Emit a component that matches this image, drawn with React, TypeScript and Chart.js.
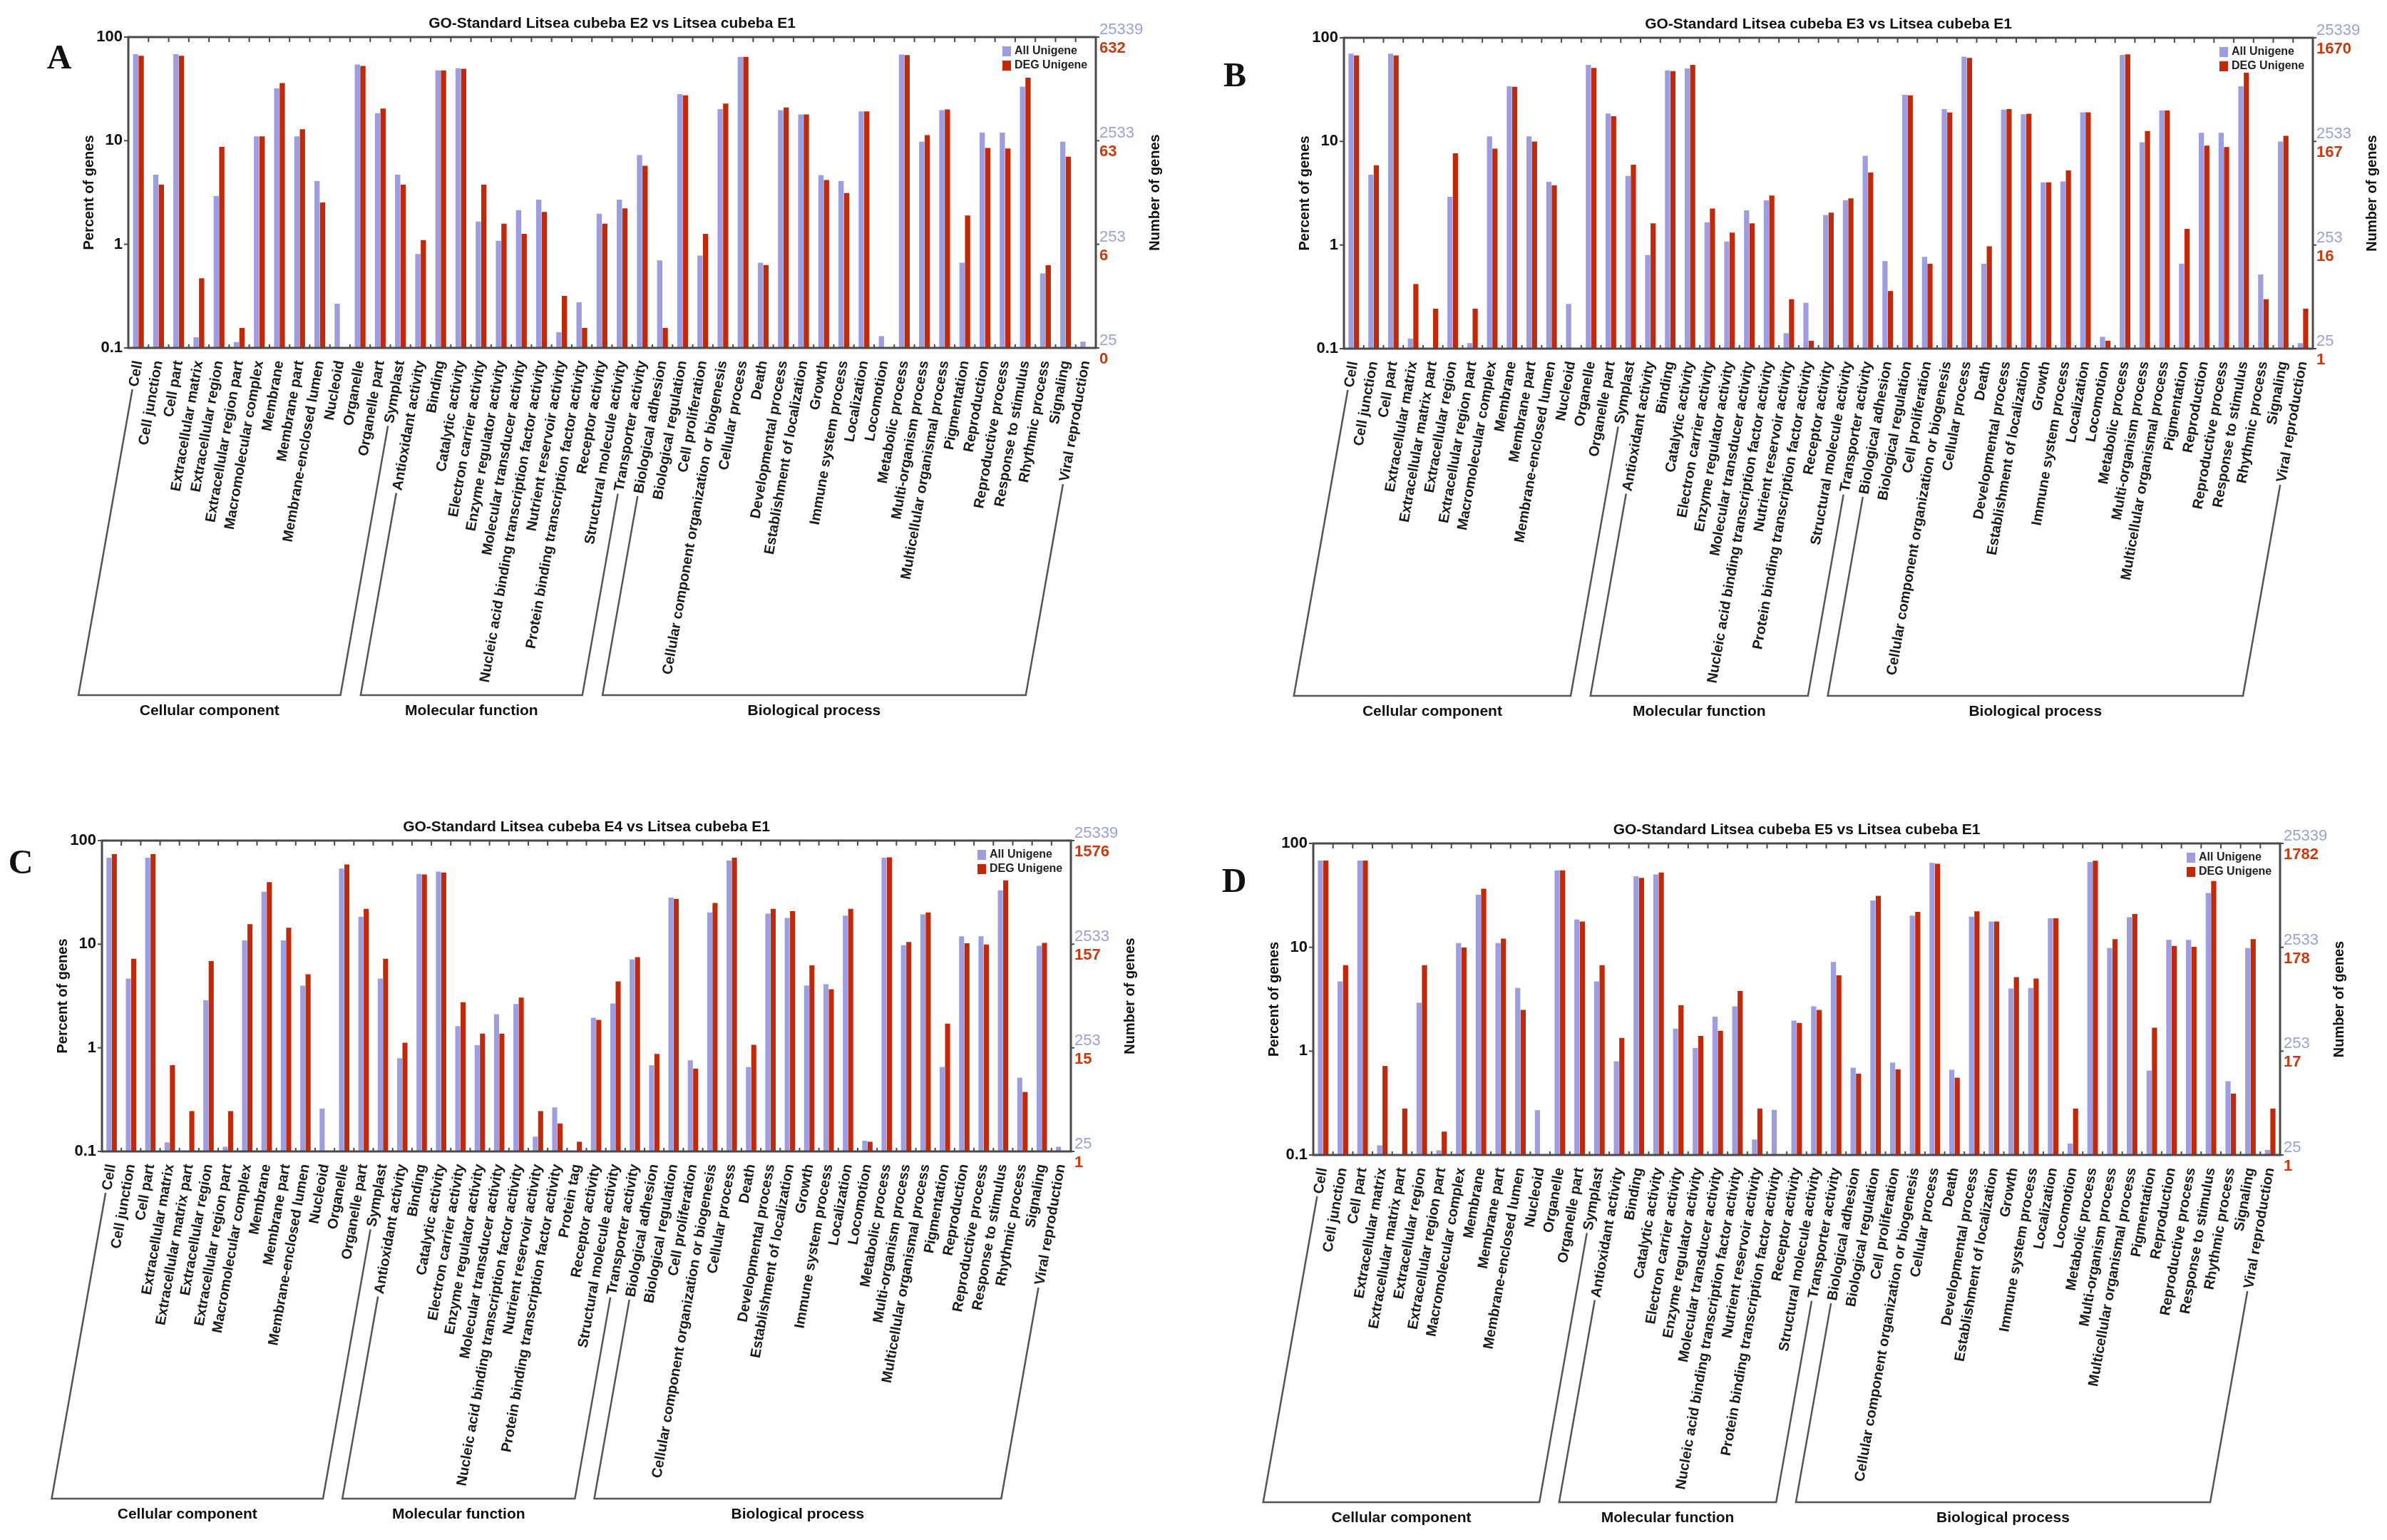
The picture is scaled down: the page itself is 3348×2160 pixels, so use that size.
import { useEffect, useRef } from 'react';
import { Chart, registerables } from 'chart.js';

Chart.register(...registerables);

// --- categories ---
const cellular = ['Cell', 'Cell junction', 'Cell part', 'Extracellular matrix', 'Extracellular region', 'Extracellular region part', 'Macromolecular complex', 'Membrane', 'Membrane part', 'Membrane-enclosed lumen', 'Nucleoid', 'Organelle', 'Organelle part', 'Symplast'];
const cellularEmp = ['Cell', 'Cell junction', 'Cell part', 'Extracellular matrix', 'Extracellular matrix part', 'Extracellular region', 'Extracellular region part', 'Macromolecular complex', 'Membrane', 'Membrane part', 'Membrane-enclosed lumen', 'Nucleoid', 'Organelle', 'Organelle part', 'Symplast'];
const molecular = ['Antioxidant activity', 'Binding', 'Catalytic activity', 'Electron carrier activity', 'Enzyme regulator activity', 'Molecular transducer activity', 'Nucleic acid binding transcription factor activity', 'Nutrient reservoir activity', 'Protein binding transcription factor activity', 'Receptor activity', 'Structural molecule activity', 'Transporter activity'];
const molecularTag = ['Antioxidant activity', 'Binding', 'Catalytic activity', 'Electron carrier activity', 'Enzyme regulator activity', 'Molecular transducer activity', 'Nucleic acid binding transcription factor activity', 'Nutrient reservoir activity', 'Protein binding transcription factor activity', 'Protein tag', 'Receptor activity', 'Structural molecule activity', 'Transporter activity'];
const biological = ['Biological adhesion', 'Biological regulation', 'Cell proliferation', 'Cellular component organization or biogenesis', 'Cellular process', 'Death', 'Developmental process', 'Establishment of localization', 'Growth', 'Immune system process', 'Localization', 'Locomotion', 'Metabolic process', 'Multi-organism process', 'Multicellular organismal process', 'Pigmentation', 'Reproduction', 'Reproductive process', 'Response to stimulus', 'Rhythmic process', 'Signaling', 'Viral reproduction'];

// --- values (percent of genes) ---
const allA = [68.5, 4.69, 68.5, 0.127, 2.92, 0.114, 11.0, 32, 11.0, 4.07, 0.267, 54.3, 18.4, 4.69, 0.806, 47.6, 50, 1.66, 1.08, 2.14, 2.7, 0.142, 0.276, 1.97, 2.7, 7.26, 0.7, 28.2, 0.777, 20.2, 64.3, 0.664, 19.7, 17.9, 4.64, 4.07, 19.2, 0.13, 67.8, 9.78, 19.7, 0.664, 11.97, 11.97, 33.3, 0.524, 9.78, 0.115];
const degA = [66, 3.76, 66, 0.47, 8.7, 0.156, 11.0, 36, 12.9, 2.53, null, 52.7, 20.4, 3.76, 1.1, 47.6, 49.5, 3.76, 1.58, 1.26, 2.05, 0.318, 0.156, 1.58, 2.22, 5.73, 0.156, 27.4, 1.26, 22.8, 64.3, 0.63, 20.9, 17.9, 4.18, 3.13, 19.2, null, 67, 11.3, 20, 1.9, 8.5, 8.4, 40.5, 0.63, 7.0, null];

const allB = [70.2, 4.77, 70.2, 0.125, null, 2.92, 0.113, 11.2, 34.1, 11.2, 4.07, 0.27, 54.8, 18.6, 4.64, 0.8, 48.5, 50.6, 1.66, 1.08, 2.16, 2.7, 0.141, 0.277, 1.95, 2.71, 7.27, 0.7, 28.2, 0.77, 20.5, 65.6, 0.66, 20.3, 18.3, 4.03, 4.11, 19.1, 0.13, 68.4, 9.82, 19.9, 0.66, 12.1, 12.1, 34.1, 0.52, 9.98, 0.113];
const degB = [67.6, 5.89, 67.6, 0.42, 0.243, 7.67, 0.243, 8.5, 33.6, 9.98, 3.76, null, 51.2, 17.5, 5.95, 1.62, 47.7, 54.8, 2.25, 1.32, 1.62, 3.0, 0.3, 0.119, 2.05, 2.82, 5.0, 0.36, 27.8, 0.66, 19.0, 64, 0.97, 20.5, 18.5, 4.03, 5.25, 19.1, 0.119, 69.2, 12.6, 19.9, 1.43, 9.12, 8.83, 46, 0.3, 11.3, 0.243];

const allC = [68.4, 4.67, 68.4, 0.122, null, 2.87, 0.111, 10.9, 32.1, 10.9, 3.98, 0.259, 53.8, 18.4, 4.67, 0.794, 47.6, 50.2, 1.62, 1.06, 2.11, 2.65, 0.139, 0.266, null, 1.95, 2.68, 7.12, 0.678, 28.1, 0.757, 20.3, 64.1, 0.653, 19.7, 17.9, 4.0, 4.11, 18.9, 0.127, 68.4, 9.77, 19.4, 0.653, 11.9, 11.9, 33.1, 0.515, 9.67, 0.111];
const degC = [74, 7.23, 74, 0.68, 0.245, 6.86, 0.245, 15.6, 39.8, 14.4, 5.13, null, 58.9, 21.9, 7.23, 1.12, 47.2, 49.2, 2.75, 1.37, 1.37, 3.05, 0.245, 0.186, 0.124, 1.86, 4.38, 7.5, 0.873, 27.4, 0.63, 25.0, 68.4, 1.07, 21.9, 20.8, 6.24, 3.67, 21.9, 0.124, 69, 10.5, 20.3, 1.71, 10.2, 9.93, 41.3, 0.375, 10.3, null];

const allD = [68.4, 4.7, 68.4, 0.124, null, 2.92, 0.111, 11.0, 32.1, 11.0, 4.05, 0.27, 55.1, 18.5, 4.7, 0.8, 48.3, 50.3, 1.65, 1.07, 2.15, 2.7, 0.141, 0.272, 1.97, 2.7, 7.23, 0.692, 28.2, 0.773, 20.2, 64.9, 0.661, 19.7, 17.7, 4.01, 4.05, 19.0, 0.129, 66.2, 9.82, 19.5, 0.65, 11.8, 11.8, 33.3, 0.513, 9.82, 0.112];
const degD = [68.4, 6.72, 68.4, 0.72, 0.28, 6.72, 0.168, 9.93, 36.7, 12.1, 2.49, null, 55.1, 17.7, 6.72, 1.34, 46.6, 52.5, 2.77, 1.4, 1.57, 3.8, 0.28, null, 1.87, 2.49, 5.36, 0.607, 31.3, 0.667, 21.9, 63.8, 0.555, 22.2, 17.7, 5.16, 5.0, 19.0, 0.28, 68.1, 12.0, 20.9, 1.68, 10.3, 10.1, 43.5, 0.39, 12.0, 0.28];

// --- axis tick labels ---
const tickValues = [100, 10, 1, 0.1];
const leftTickLabels = ['100', '10', '1', '0.1'];
const allTickLabels = ['25339', '2533', '253', '25'];
const degTicksA = ['632', '63', '6', '0'];
const degTicksB = ['1670', '167', '16', '1'];
const degTicksC = ['1576', '157', '15', '1'];
const degTicksD = ['1782', '178', '17', '1'];

const BLUE = '#9d9de0';
const RED = '#c02a0a';
const FONT = "'Liberation Sans', Arial, sans-serif";
const ROT = 80;

const text = (ctx, s, x, y, font, color, align = 'center', rot = 0) => {
  ctx.save();
  ctx.translate(x, y);
  if (rot) ctx.rotate(rot);
  ctx.font = font;
  ctx.fillStyle = color;
  ctx.textAlign = align;
  ctx.textBaseline = 'middle';
  ctx.fillText(s, 0, 0);
  ctx.restore();
};

const line = (ctx, x1, y1, x2, y2) => {
  ctx.beginPath();
  ctx.moveTo(x1, y1);
  ctx.lineTo(x2, y2);
  ctx.stroke();
};

const decor = {
  id: 'decor',
  afterDraw(chart, _args, o) {
    const { ctx, chartArea: a } = chart;
    const xs = chart.scales.x;
    const ys = chart.scales.y;
    const labels = chart.data.labels;
    const n = labels.length;
    ctx.save();

    // plot frame
    ctx.strokeStyle = '#4a4a4a';
    ctx.lineWidth = 3;
    ctx.strokeRect(a.left, a.top, a.right - a.left, a.bottom - a.top);

    // category ticks
    ctx.lineWidth = 2;
    for (let i = 1; i < n; i++) {
      const x = (xs.getPixelForValue(i - 1) + xs.getPixelForValue(i)) / 2;
      line(ctx, x, a.top, x, a.top + 7);
      line(ctx, x, a.bottom, x, a.bottom - 5);
    }

    // y ticks both sides
    tickValues.forEach((v, k) => {
      const y = ys.getPixelForValue(v);
      line(ctx, a.left - 6, y, a.left, y);
      line(ctx, a.right, y, a.right + 5, y);
      text(ctx, leftTickLabels[k], a.left - 8, y, `bold 22px ${FONT}`, '#111', 'right');
      text(ctx, allTickLabels[k], a.right + 5, y - 10, `22px ${FONT}`, '#9f9fe0', 'left');
      text(ctx, o.degTicks[k], a.right + 5, y + 16, `bold 22px ${FONT}`, '#c83a10', 'left');
    });

    const midY = (a.top + a.bottom) / 2;
    text(ctx, 'Percent of genes', a.left - 55, midY, `bold 20px ${FONT}`, '#111', 'center', -Math.PI / 2);
    text(ctx, 'Number of genes', a.right + 83, midY, `bold 20px ${FONT}`, '#111', 'center', -Math.PI / 2);

    // title and panel letter
    text(ctx, o.title, (a.left + a.right) / 2, a.top - 19, `bold 21px ${FONT}`, '#111');
    text(ctx, o.letter, o.letterX, o.letterY, "bold 48px 'Liberation Serif', serif", '#111');

    // legend
    ctx.fillStyle = BLUE;
    ctx.fillRect(a.right - 131, a.top + 13, 12, 14);
    ctx.fillStyle = RED;
    ctx.fillRect(a.right - 131, a.top + 33, 12, 14);
    text(ctx, 'All Unigene', a.right - 114, a.top + 20, `bold 16px ${FONT}`, '#222', 'left');
    text(ctx, 'DEG Unigene', a.right - 114, a.top + 40, `bold 16px ${FONT}`, '#222', 'left');

    // group brackets following the label slant
    const th = (ROT * Math.PI) / 180;
    const c = Math.cos(th);
    const s = Math.sin(th);
    const y0 = a.bottom + 10;
    const yb = a.bottom + 487;
    const k = (yb - y0) / s;
    ctx.font = `bold 20px ${FONT}`;
    ctx.strokeStyle = '#555';
    ctx.lineWidth = 2.5;
    o.groups.forEach(([name, f, l]) => {
      const xf = xs.getPixelForValue(f);
      const xl = xs.getPixelForValue(l);
      const wf = ctx.measureText(labels[f]).width + 12;
      const wl = ctx.measureText(labels[l]).width + 12;
      const x2 = xf - k * c;
      const x3 = xl - k * c;
      ctx.beginPath();
      ctx.moveTo(xf - wf * c, y0 + wf * s);
      ctx.lineTo(x2, yb);
      ctx.lineTo(x3, yb);
      ctx.lineTo(xl - wl * c, y0 + wl * s);
      ctx.stroke();
      text(ctx, name, (x2 + x3) / 2, yb + 22, `bold 21px ${FONT}`, '#111');
    });
    ctx.restore();
  },
};

const groupsFor = (cc, mf, bp) => [
  ['Cellular component', 0, cc.length - 1],
  ['Molecular function', cc.length, cc.length + mf.length - 1],
  ['Biological process', cc.length + mf.length, cc.length + mf.length + bp.length - 1],
];

const panels = [
  {
    key: 'A', x: 0, y: 0, left: 180, right: 1537, top: 52, bottom: 488, letterX: 83, letterY: 84,
    title: 'GO-Standard Litsea cubeba E2 vs Litsea cubeba E1',
    labels: [...cellular, ...molecular, ...biological], all: allA, deg: degA, degTicks: degTicksA,
    groups: groupsFor(cellular, molecular, biological),
  },
  {
    key: 'B', x: 1674, y: 0, left: 211, right: 1570, top: 53, bottom: 489, letterX: 58, letterY: 109,
    title: 'GO-Standard Litsea cubeba E3 vs Litsea cubeba E1',
    labels: [...cellularEmp, ...molecular, ...biological], all: allB, deg: degB, degTicks: degTicksB,
    groups: groupsFor(cellularEmp, molecular, biological),
  },
  {
    key: 'C', x: 0, y: 1080, left: 143, right: 1502, top: 99, bottom: 535, letterX: 29, letterY: 133,
    title: 'GO-Standard Litsea cubeba E4 vs Litsea cubeba E1',
    labels: [...cellularEmp, ...molecularTag, ...biological], all: allC, deg: degC, degTicks: degTicksC,
    groups: groupsFor(cellularEmp, molecularTag, biological),
  },
  {
    key: 'D', x: 1674, y: 1080, left: 168, right: 1524, top: 103, bottom: 540, letterX: 57, letterY: 159,
    title: 'GO-Standard Litsea cubeba E5 vs Litsea cubeba E1',
    labels: [...cellularEmp, ...molecular, ...biological], all: allD, deg: degD, degTicks: degTicksD,
    groups: groupsFor(cellularEmp, molecular, biological),
  },
];

const W = 1674;
const H = 1080;

function Panel({ p }) {
  const canvasRef = useRef(null);

  useEffect(() => {
    const chart = new Chart(canvasRef.current, {
      type: 'bar',
      data: {
        labels: p.labels,
        datasets: [
          { label: 'All Unigene', data: p.all, backgroundColor: BLUE, categoryPercentage: 0.55, barPercentage: 0.95 },
          { label: 'DEG Unigene', data: p.deg, backgroundColor: RED, categoryPercentage: 0.55, barPercentage: 0.95 },
        ],
      },
      options: {
        animation: false,
        responsive: false,
        devicePixelRatio: 1,
        layout: { padding: { top: p.top, right: W - p.right, left: 0, bottom: 0 } },
        plugins: {
          legend: { display: false },
          tooltip: { enabled: false },
          decor: { title: p.title, letter: p.key, letterX: p.letterX, letterY: p.letterY, degTicks: p.degTicks, groups: p.groups },
        },
        scales: {
          x: {
            grid: { display: false },
            border: { display: false },
            ticks: {
              autoSkip: false,
              minRotation: ROT,
              maxRotation: ROT,
              padding: 8,
              color: '#1a1a1a',
              font: { family: FONT, size: 20, weight: 'bold' },
            },
            afterFit: (s) => { s.height = H - p.bottom; },
          },
          y: {
            type: 'logarithmic',
            min: 0.1,
            max: 100,
            grid: { display: false },
            border: { display: false },
            ticks: { display: false },
            afterFit: (s) => { s.width = p.left; },
          },
        },
      },
      plugins: [decor],
    });
    return () => chart.destroy();
  }, [p]);

  return (
    <canvas
      ref={canvasRef}
      width={W}
      height={H}
      style={{ position: 'absolute', left: p.x, top: p.y, width: W, height: H }}
    />
  );
}

export default function App() {
  return (
    <div style={{ position: 'absolute', left: 0, top: 0, width: 3348, height: 2160, background: '#fff' }}>
      {panels.map((p) => <Panel key={p.key} p={p} />)}
    </div>
  );
}
